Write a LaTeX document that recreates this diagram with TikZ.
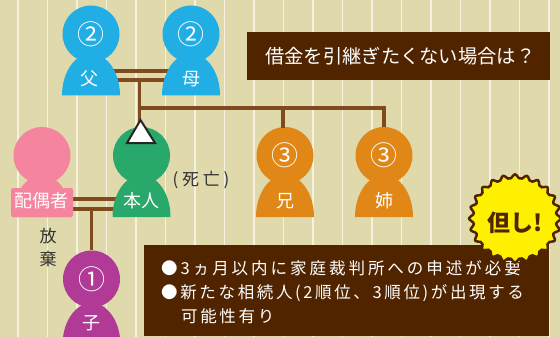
\documentclass[tikz,border=0pt]{standalone}
\usepackage{fontspec}
\setmainfont{Noto Sans CJK JP}
\newfontfamily\spacedfont[LetterSpace=16]{Noto Sans CJK JP}
\newfontfamily\widefont[LetterSpace=18]{Noto Sans CJK JP}
\usetikzlibrary{shapes.geometric}
\definecolor{paper}{HTML}{DFD9AB}
\definecolor{gridcol}{HTML}{F5F2E2}
\definecolor{linecol}{HTML}{7E4A1E}
\definecolor{boxcol}{HTML}{512400}
\definecolor{blueperson}{HTML}{20AEE5}
\definecolor{pinkperson}{HTML}{F5859E}
\definecolor{greenperson}{HTML}{29A86B}
\definecolor{orangeperson}{HTML}{E08717}
\definecolor{purpleperson}{HTML}{B13A96}
\definecolor{burstcol}{HTML}{FFF000}
\begin{document}
\begin{tikzpicture}[x=1pt,y=-1pt]
 \tikzset{bodyarc/.style={start angle=180,end angle=360,x radius=29,y radius=42}}
 \tikzset{head/.style={circle,minimum size=57pt,inner sep=0pt,text=white,font=\fontsize{27}{27}\selectfont}}
 \tikzset{nametext/.style={text=white,inner sep=0pt,font=\fontsize{18}{18}\selectfont}}
 \tikzset{family/.style={draw=linecol,line width=3.4pt}}
 \tikzset{boxtext/.style={text=white,inner sep=0pt,anchor=west,font=\fontsize{16.5}{16.5}\spacedfont}}
  \clip[use as bounding box] (0,0) rectangle (560,337);
  \fill[paper] (0,0) rectangle (560,337);
  \draw[gridcol,line width=1.2pt,shift={(18,11)},step=29.5] (-18,-11) grid (542,326);
  \coordinate (fatherA) at (91,71);
  \coordinate (fatherB) at (91,80);
  \coordinate (motherA) at (191,71);
  \coordinate (motherB) at (191,80);
  \coordinate (stemTop) at (139.5,80);
  \coordinate (stemEnd) at (139.5,125);
  \coordinate (stemMid) at (139.5,108);
  \coordinate (brotherTop) at (283,108);
  \coordinate (brotherEnd) at (283,127.5);
  \coordinate (sisterTop) at (384,108);
  \coordinate (spouseA) at (42,199);
  \coordinate (spouseB) at (42,209);
  \coordinate (selfA) at (141,199);
  \coordinate (selfB) at (141,209);
  \coordinate (childTop) at (91.5,209);
  \node[head,fill=blueperson] (fatherHead) at (91,34) {②};
  \node[head,fill=blueperson] (motherHead) at (191,34) {②};
  \node[head,fill=pinkperson] (spouseHead) at (42,155.5) {};
  \node[head,fill=greenperson] (selfHead) at (141.5,155.5) {};
  \node[head,fill=orangeperson] (brotherHead) at (285,155.5) {③};
  \node[head,fill=orangeperson] (sisterHead) at (384,155.5) {③};
  \node[head,fill=purpleperson] (childHead) at (91.5,279) {\raisebox{-3pt}{①}};
  \draw[family] (fatherA) -- (motherA);
  \draw[family] (fatherB) -- (motherB);
  \draw[family] (stemTop) -- (stemEnd);
  \draw[family] (stemMid) -- (brotherTop) -- (sisterTop) -- (sisterHead);
  \draw[family] (brotherTop) -- (brotherEnd);
  \draw[family] (spouseA) -- (selfA);
  \draw[family] (spouseB) -- (selfB);
  \draw[family] (childTop) -- (childHead);
  \fill[blueperson] (62,95.5) arc[bodyarc];
  \fill[blueperson] (162,95.5) arc[bodyarc];
  \fill[pinkperson] (13,217) arc[bodyarc];
  \fill[pinkperson,rounded corners=2pt] (11,217) rectangle (73,188);
  \fill[greenperson] (112.5,217) arc[bodyarc];
  \fill[orangeperson] (256,217) arc[bodyarc];
  \fill[orangeperson] (355,217) arc[bodyarc];
  \fill[purpleperson] (62.5,345) arc[bodyarc];
  \node[nametext] (fatherName) at (89,79) {父};
  \node[nametext] (motherName) at (191,79) {母};
  \node[nametext] (spouseName) at (41.5,201) {配偶者};
  \node[nametext] (selfName) at (141.5,201) {本人};
  \node[nametext] (brotherName) at (285,201) {兄};
  \node[nametext] (sisterName) at (384,201) {姉};
  \node[nametext] (childName) at (91,323) {子};
  \draw[fill=white,draw=black!85,line width=2pt,line join=miter] (127,143) -- (140.5,120) -- (155,143) -- cycle;
  \node[inner sep=0pt,text=black!80,font=\fontsize{17}{17}\selectfont] (deceased) at (201,180) {( 死 亡 )};
  \node[inner sep=0pt,text=black!80,align=center,font=\fontsize{17}{23}\selectfont] (renounce) at (48,248) {放\\棄};
  \fill[boxcol] (247,32) rectangle (550,80);
  \node[text=white,inner sep=0pt,anchor=west,font=\fontsize{19.3}{19.3}\selectfont] (question) at (265,56) {借金を引継ぎたくない場合は？};
  \fill[boxcol] (144,245) rectangle (549,336);
  \node[boxtext,font=\fontsize{16.5}{16.5}\widefont] (lineOne) at (161,268) {●3ヵ月以内に家庭裁判所への申述が必要};
  \node[boxtext] (lineTwo) at (161,293) {●新たな相続人(2順位、3順位)が出現する};
  \node[boxtext] (lineThree) at (181,316) {可能性有り};
  \node[star,star points=24,star point ratio=1.15,minimum size=90pt,inner sep=0pt,xscale=1.04,fill=burstcol,draw=boxcol,line width=2.5pt,rounded corners=2pt] (burst) at (515,218.5) {};
  \node[inner sep=0pt,text=boxcol,font=\fontsize{23}{23}\bfseries] (but) at (515,223) {但し!};
\end{tikzpicture}
\end{document}
